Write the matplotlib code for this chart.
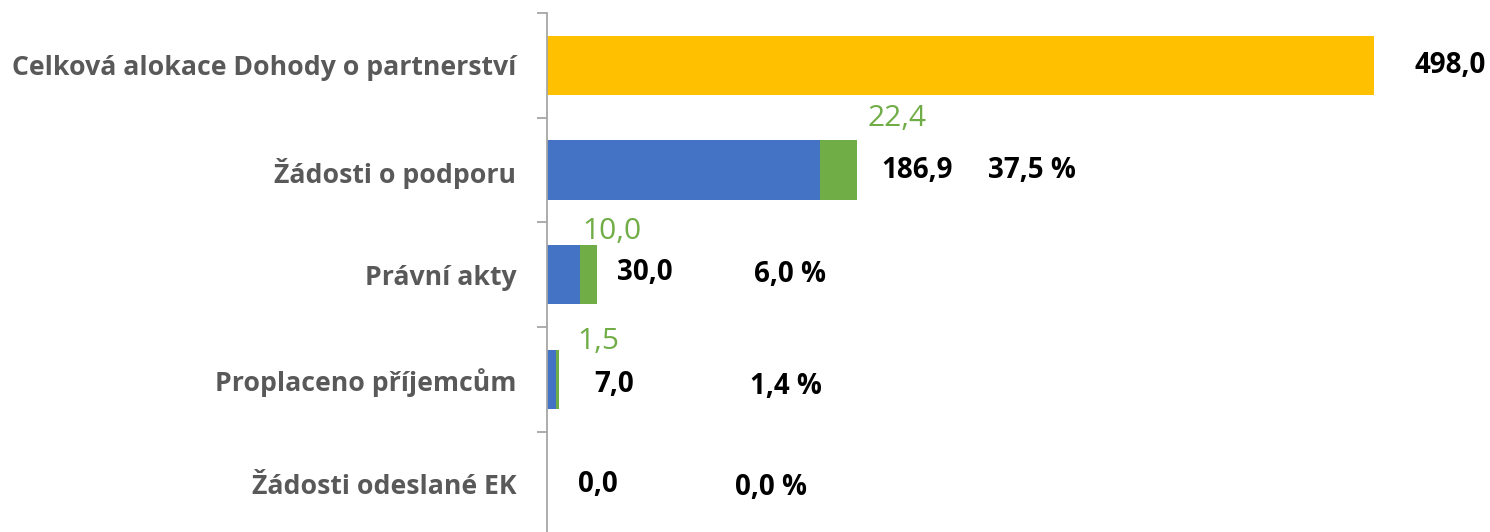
import numpy as np
import matplotlib.pyplot as plt

# data (mld. Kč)
categories = ['Celková alokace Dohody o partnerství', 'Žádosti o podporu',
              'Právní akty', 'Proplaceno příjemcům', 'Žádosti odeslané EK']
allocation = [498.0, 0, 0, 0, 0]
blue_part = [0, 164.5, 20.0, 5.5, 0.0]
green_part = [0, 22.4, 10.0, 1.5, 0.0]
totals = [498.0, 186.9, 30.0, 7.0, 0.0]
percents = [None, 37.5, 6.0, 1.4, 0.0]

# label layout (data coordinates)
total_x = [543.8, 222.9, 59.0, 40.4, 30.7]
total_dy = [0.0, 0.0, -0.02, 0.05, 0.0]
pct_x = [None, 292.0, 146.3, 144.1, 134.6]
pct_dy = [0.0, 0.0, 0.0, 0.07, 0.03]
green_x = [None, 210.8, 39.1, 30.7, None]
green_dy = [0, -0.49, -0.41, -0.36, 0]

yellow = '#FFC000'
blue = '#4472C4'
green = '#70AD47'
grey = '#A6A6A6'

plt.rcParams['font.family'] = ['Open Sans', 'DejaVu Sans']

W, H = 1490, 532
fig = plt.figure(figsize=(W / 100, H / 100), dpi=100)
x0, x1 = 547, 1490
ytop, ybot = 13, 536.5
ax = fig.add_axes([x0 / W, (H - ybot) / H, (x1 - x0) / W, (ybot - ytop) / H])

px_per_unit = 827 / 498.0
xmax = (x1 - x0) / px_per_unit

y = np.arange(len(categories))
h = 0.565
ax.barh(y, allocation, height=h, color=yellow)
ax.barh(y, blue_part, height=h, color=blue)
ax.barh(y, green_part, left=blue_part, height=h, color=green)

ax.set_xlim(0, xmax)
ax.set_ylim(len(categories) - 0.5, -0.5)

for i in range(len(categories)):
    ax.text(total_x[i], y[i] + total_dy[i], f'{totals[i]:.1f}'.replace('.', ','),
            ha='center', va='center', fontsize=20, fontweight='bold', color='black')
    if percents[i] is not None:
        ax.text(pct_x[i], y[i] + pct_dy[i], f'{percents[i]:.1f} %'.replace('.', ','),
                ha='center', va='center', fontsize=20, fontweight='bold', color='black')
    if green_x[i] is not None:
        ax.text(green_x[i], y[i] + green_dy[i], f'{green_part[i]:.1f}'.replace('.', ','),
                ha='center', va='center', fontsize=21.5, color=green)

for s in ['top', 'right', 'bottom']:
    ax.spines[s].set_visible(False)
ax.spines['left'].set_color(grey)
ax.spines['left'].set_linewidth(1.3)
ax.set_xticks([])
ax.set_yticks(y)
ax.set_yticklabels(categories, fontsize=19.2, fontweight='bold', color='#595959')
ax.tick_params(axis='y', which='major', length=0, pad=22)
ax.set_yticks(np.arange(-0.5, len(categories)), minor=True)
ax.tick_params(axis='y', which='minor', length=7.2, width=1.3, color=grey)

fig.savefig('out.png', dpi=100)
